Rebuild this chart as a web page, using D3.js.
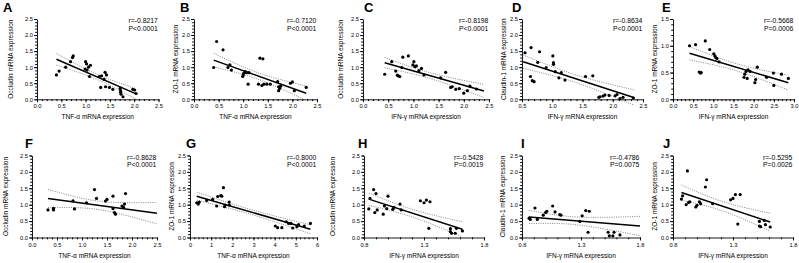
<!DOCTYPE html>
<html lang="en"><head>
<meta charset="utf-8">
<title>Correlation panels</title>
<script src="https://cdn.jsdelivr.net/npm/d3@7"></script>
<style>
body { margin: 0; background: #fff; }
text { font-family: Arial, "Liberation Sans", sans-serif; fill: #000; }
</style>
</head>
<body>
<script type="text/javascript">

var width = 799;
var height = 263;

// panel texts
var letters = ["A", "B", "C", "D", "E", "F", "G", "H", "I", "J"];
var yTitles = ["Occludin mRNA expression", "ZO-1 mRNA expression", "Occludin mRNA expression",
               "Claudin-1 mRNA expression", "ZO-1 mRNA expression", "Occludin mRNA expression",
               "ZO-1 mRNA expression", "Occludin mRNA expression", "Claudin-1 mRNA expression",
               "ZO-1 mRNA expression"];
var xTitles = ["TNF-α mRNA expression", "TNF-α mRNA expression", "IFN-γ mRNA expression",
               "IFN-γ mRNA expression", "IFN-γ mRNA expression", "TNF-α mRNA expression",
               "TNF-α mRNA expression", "IFN-γ mRNA expression", "IFN-γ mRNA expression",
               "IFN-γ mRNA expression"];
var rLabels = ["r=-0.8217", "r=-0.7120", "r=-0.8198", "r=-0.8634", "r=-0.5668",
               "r=-0.8628", "r=-0.8000", "r=-0.5428", "r=-0.4786", "r=-0.5295"];
var pLabels = ["P<0.0001", "P<0.0001", "P<0.0001", "P<0.0001", "P=0.0006",
               "P<0.0001", "P<0.0001", "P=0.0019", "P=0.0075", "P=0.0026"];

// axis domains and ticks
var xDomains = [[0, 2.5], [0, 2.5], [0, 2.5], [0.5, 2.5], [0, 3], [0, 2.5], [0, 6], [0.8, 1.8], [0.8, 1.8], [0.8, 1.8]];
var xTicks = [
    [0, 0.5, 1, 1.5, 2, 2.5], [0, 0.5, 1, 1.5, 2, 2.5], [0, 0.5, 1, 1.5, 2, 2.5],
    [0.5, 1, 1.5, 2, 2.5], [0, 0.5, 1, 1.5, 2, 2.5, 3], [0, 0.5, 1, 1.5, 2, 2.5],
    [0, 1, 2, 3, 4, 5, 6], [0.8, 1.3, 1.8], [0.8, 1.3, 1.8], [0.8, 1.3, 1.8]];
var xMinorStep = [0.1, 0.1, 0.1, 0.1, 0.1, 0.1, 0.2, 0.1, 0.1, 0.1];
var yDomains = [[0, 2.5], [0, 2.5], [0, 2.5], [0, 2.5], [0, 1.5], [0, 2.5], [0, 2.5], [0, 2.5], [0, 2.5], [0, 2.5]];

// fitted regression lines as drawn in the figure: [xStart, yStart, xEnd, yEnd]
var fitLines = [[0.40, 1.245, 2.04, 0.17], [0.40, 1.22, 2.28, 0.19], [0.43, 1.14, 2.40, 0.26],
                [0.52, 1.17, 2.36, 0.05], [0.41, 0.86, 2.86, 0.31], [0.32, 1.19, 2.50, 0.74],
                [0.32, 1.26, 5.69, 0.25], [0.84, 1.17, 1.62, 0.25], [0.86, 0.625, 1.80, 0.35],
                [0.87, 1.37, 1.61, 0.47]];

// scatter points
var pointsA = [[0.40,0.76],[0.455,0.88],[0.59,1.0],[0.69,1.17],[0.73,1.30],[0.745,1.35],[0.99,0.94],[1.0,1.17],
    [1.02,1.10],[1.03,0.91],[1.06,1.0],[1.1,1.06],[1.08,0.71],[1.28,0.71],[1.31,0.37],[1.33,0.73],[1.38,0.62],
    [1.40,0.84],[1.41,0.39],[1.43,0.76],[1.49,0.37],[1.56,0.31],[1.71,0.34],[1.72,0.27],[1.72,0.21],[1.73,0.16],
    [1.77,0.08],[1.97,0.31],[2.01,0.29],[2.04,0.18]];
var pointsB = [[0.40,0.99],[0.46,1.80],[0.59,1.54],[0.69,0.99],[0.73,1.07],[0.76,0.91],[0.99,0.71],[1.0,0.76],
    [1.01,0.81],[1.04,0.86],[1.07,0.83],[1.10,0.47],[1.12,0.83],[1.31,0.47],[1.34,1.28],[1.40,1.26],[1.38,0.43],
    [1.42,0.47],[1.48,0.47],[1.55,0.47],[1.70,0.55],[1.72,0.39],[1.74,0.34],[1.72,0.27],[1.76,0.41],[1.96,0.50],
    [2.0,0.54],[2.04,0.27],[2.28,0.37]];
var pointsC = [[0.43,0.78],[0.57,1.17],[0.65,0.88],[0.68,0.75],[0.70,0.73],[0.73,0.71],[0.77,0.99],[0.79,1.31],
    [0.90,1.35],[0.99,1.07],[1.01,1.17],[1.03,1.02],[1.06,1.04],[1.11,0.89],[1.16,0.96],[1.21,0.76],[1.54,0.67],
    [1.64,0.84],[1.74,0.37],[1.77,0.39],[1.84,0.31],[1.91,0.33],[2.0,0.19],[2.07,0.27],[2.12,0.41],[2.25,0.32]];
var pointsD = [[0.55,1.45],[0.65,1.61],[0.64,0.71],[0.67,0.58],[0.70,0.55],[0.76,1.15],[0.79,1.48],[0.90,0.99],
    [1.01,1.35],[1.02,1.14],[1.02,1.09],[1.05,0.86],[1.11,0.67],[1.15,0.83],[1.21,0.60],[1.55,0.71],[1.67,0.73],
    [1.77,0.06],[1.79,0.08],[1.84,0.10],[1.87,0.13],[1.94,0.12],[2.04,0.11],[2.07,0.15],[2.12,0.02],[2.17,0.06],
    [2.34,0.04]];
var pointsE = [[0.41,1.0],[0.56,1.02],[0.65,0.51],[0.68,0.49],[0.70,0.50],[0.80,1.09],[0.91,0.93],[1.01,0.85],
    [1.04,0.81],[1.06,0.78],[1.09,0.76],[1.14,0.70],[1.76,0.41],[1.78,0.47],[1.81,0.52],[1.84,0.39],[1.86,0.55],
    [1.91,0.52],[2.03,0.31],[2.05,0.37],[2.09,0.60],[2.32,0.41],[2.49,0.49],[2.50,0.26],[2.69,0.47],[2.86,0.39]];
var pointsF = [[0.32,0.84],[0.43,0.84],[0.43,0.89],[0.82,1.12],[0.85,0.87],[1.09,1.06],[1.25,1.46],[1.29,1.19],
    [1.47,1.11],[1.50,1.16],[1.62,1.26],[1.62,0.88],[1.65,0.76],[1.67,0.71],[1.80,0.96],[1.83,0.92],[1.85,1.02],
    [1.87,1.34]];
var pointsG = [[0.32,1.06],[0.39,1.02],[0.44,1.08],[0.79,1.13],[1.07,1.16],[1.26,0.96],[1.31,1.25],[1.45,1.28],
    [1.50,1.26],[1.58,1.52],[1.63,0.94],[1.66,0.99],[1.85,1.08],[1.86,0.99],[4.03,0.35],[4.14,0.30],[4.34,0.30],
    [4.55,0.48],[4.66,0.43],[4.77,0.43],[4.85,0.29],[5.05,0.33],[5.13,0.39],[5.40,0.35],[5.69,0.43]];
var pointsH = [[0.84,0.87],[0.85,1.19],[0.88,1.46],[0.90,1.34],[0.89,0.76],[0.91,0.84],[0.96,0.71],[0.97,0.96],
    [0.99,0.88],[1.0,1.26],[1.04,0.86],[1.05,0.92],[1.10,1.02],[1.11,0.84],[1.27,1.12],[1.30,1.06],[1.32,1.14],
    [1.35,1.09],[1.34,0.28],[1.52,0.27],[1.52,0.18],[1.53,0.13],[1.56,0.13],[1.57,0.28],[1.62,0.20]];
var pointsI = [[0.86,0.59],[0.87,0.55],[0.91,0.90],[0.93,0.55],[0.98,0.68],[1.0,0.76],[1.01,0.80],[1.06,0.96],
    [1.08,0.78],[1.12,0.70],[1.13,0.68],[1.29,0.49],[1.31,0.66],[1.34,0.82],[1.37,0.80],[1.36,0.16],[1.53,0.16],
    [1.54,0.05],[1.57,0.05],[1.58,0.16],[1.63,0.08]];
var pointsJ = [[0.87,1.17],[0.88,1.27],[0.91,1.0],[0.92,2.03],[0.93,1.07],[0.94,1.09],[0.99,0.93],[1.0,0.98],
    [1.02,1.09],[1.03,1.03],[1.07,1.54],[1.08,1.76],[1.13,1.03],[1.28,1.15],[1.30,1.19],[1.32,1.31],[1.36,1.31],
    [1.34,0.41],[1.52,0.35],[1.52,0.49],[1.53,0.33],[1.56,0.52],[1.57,0.39],[1.61,0.32]];
var allPoints = [pointsA, pointsB, pointsC, pointsD, pointsE, pointsF, pointsG, pointsH, pointsI, pointsJ];

// pixel frame of each panel (axis extents, letter and y-title positions)
var frames = [
    {x0: 37, x1: 158.5, y0: 19, y1: 99.3, lx: 3, tx: 11},
    {x0: 194, x1: 317, y0: 19, y1: 99.3, lx: 180, tx: 175.5},
    {x0: 363, x1: 489, y0: 19, y1: 99.3, lx: 364, tx: 341},
    {x0: 522, x1: 643, y0: 19, y1: 99.3, lx: 512, tx: 503.5},
    {x0: 673, x1: 794, y0: 19, y1: 99.3, lx: 662, tx: 655},
    {x0: 32, x1: 157, y0: 155.5, y1: 237.5, lx: 25, tx: 6},
    {x0: 190, x1: 317, y0: 155.5, y1: 237.5, lx: 186, tx: 172},
    {x0: 364, x1: 484, y0: 155.5, y1: 237.5, lx: 358, tx: 333},
    {x0: 522, x1: 640, y0: 155.5, y1: 237.5, lx: 521, tx: 503},
    {x0: 673, x1: 793, y0: 155.5, y1: 237.5, lx: 663, tx: 655}
];

var svg = d3.select("body").append("svg")
            .attr("width", width)
            .attr("height", height);

// 95% confidence band around the drawn line, spread taken from the points
function band(pts, ln) {
    var n = pts.length;
    var b = (ln[3] - ln[1]) / (ln[2] - ln[0]);
    var f = x => ln[1] + b * (x - ln[0]);
    var mx = d3.mean(pts, d => d[0]);
    var sxx = d3.sum(pts, d => (d[0] - mx) * (d[0] - mx));
    var sse = d3.sum(pts, d => Math.pow(d[1] - f(d[0]), 2));
    var s = Math.sqrt(sse / (n - 2));
    var t = 2.05;
    return {f: f, hw: x => t * s * Math.sqrt(1 / n + (x - mx) * (x - mx) / sxx)};
}

allPoints.forEach((pts, i) => {
    var fr = frames[i];
    var x = d3.scaleLinear().domain(xDomains[i]).range([fr.x0, fr.x1]);
    var y = d3.scaleLinear().domain(yDomains[i]).range([fr.y1, fr.y0]);
    var g = svg.append("g");

    // minor ticks
    var xd = xDomains[i];
    var xMinor = d3.range(Math.round((xd[1] - xd[0]) / xMinorStep[i]) + 1).map(k => xd[0] + k * xMinorStep[i]);
    var yd = yDomains[i];
    var yMinor = d3.range(Math.round((yd[1] - yd[0]) / 0.1) + 1).map(k => k * 0.1);

    g.append("g")
        .attr("transform", "translate(0," + fr.y1 + ")")
        .call(d3.axisBottom(x).tickValues(xMinor).tickSize(1.8).tickFormat(""))
        .call(a => a.select(".domain").remove());
    g.append("g")
        .attr("transform", "translate(" + fr.x0 + ",0)")
        .call(d3.axisLeft(y).tickValues(yMinor).tickSize(1.8).tickFormat(""))
        .call(a => a.select(".domain").remove());

    // major axes
    var xStep = xTicks[i][1] - xTicks[i][0];
    var xAxis = g.append("g")
        .attr("transform", "translate(0," + fr.y1 + ")")
        .call(d3.axisBottom(x).tickValues(xTicks[i]).tickSize(3).tickSizeOuter(0).tickPadding(2)
              .tickFormat(xStep >= 1 ? d3.format("d") : d3.format(".1f")));
    var yAxis = g.append("g")
        .attr("transform", "translate(" + fr.x0 + ",0)")
        .call(d3.axisLeft(y).tickValues(d3.range(0, yd[1] + 0.01, 0.5)).tickSize(3).tickSizeOuter(0).tickPadding(1)
              .tickFormat(d3.format(".1f")));

    [xAxis, yAxis].forEach(ax => {
        ax.selectAll("text").style("font-size", "5.7px");
        ax.selectAll("line, path").attr("stroke", "#000").attr("stroke-width", 0.9);
    });
    g.selectAll(".tick line").attr("stroke", "#000");

    // regression line and band
    var ln = fitLines[i];
    var m = band(pts, ln);
    var xs = d3.range(0, 41).map(k => ln[0] + (ln[2] - ln[0]) * k / 40);
    var line = d3.line().x(d => x(d[0])).y(d => y(d[1]));
    g.append("path")
        .attr("d", line(xs.map(v => [v, m.f(v) + m.hw(v)])))
        .attr("fill", "none").attr("stroke", "#666").attr("stroke-width", 0.8).attr("stroke-dasharray", "1,1.3");
    g.append("path")
        .attr("d", line(xs.map(v => [v, m.f(v) - m.hw(v)])))
        .attr("fill", "none").attr("stroke", "#666").attr("stroke-width", 0.8).attr("stroke-dasharray", "1,1.3");
    g.append("path")
        .attr("d", line([[ln[0], ln[1]], [ln[2], ln[3]]]))
        .attr("fill", "none").attr("stroke", "#000").attr("stroke-width", 1.5);

    // points
    g.selectAll("circle")
        .data(pts)
        .enter()
        .append("circle")
        .attr("cx", d => x(d[0]))
        .attr("cy", d => y(d[1]))
        .attr("r", 1.6)
        .attr("fill", "#000");

    // labels
    g.append("text")
        .attr("x", fr.lx)
        .attr("y", fr.y0 - 7.5)
        .style("font-size", "13px")
        .style("font-weight", "bold")
        .text(letters[i]);
    g.append("text")
        .attr("x", (fr.x0 + fr.x1) / 2)
        .attr("y", fr.y1 + 20)
        .attr("text-anchor", "middle")
        .style("font-size", "6.5px")
        .text(xTitles[i]);
    g.append("text")
        .attr("transform", "translate(" + (fr.tx + 2.3) + "," + ((fr.y0 + fr.y1) / 2) + ") rotate(-90)")
        .attr("text-anchor", "middle")
        .style("font-size", "6.5px")
        .text(yTitles[i]);
    g.append("text")
        .attr("x", fr.x1 - 30)
        .attr("y", fr.y0 + 4)
        .style("font-size", "6.8px")
        .text(rLabels[i]);
    g.append("text")
        .attr("x", fr.x1 - 30)
        .attr("y", fr.y0 + 11.5)
        .style("font-size", "6.8px")
        .text(pLabels[i]);
});

</script>
</body></html>
